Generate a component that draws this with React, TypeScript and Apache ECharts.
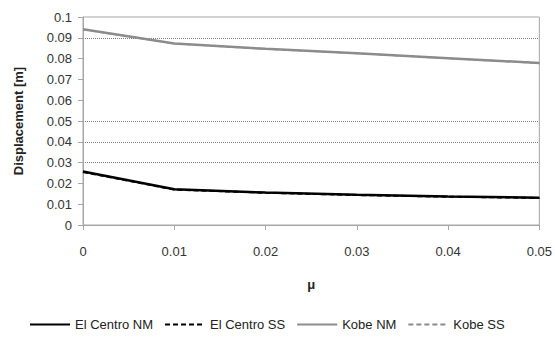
import React, { useEffect, useRef } from "react";
import * as echarts from "echarts";

const muValues = [0, 0.01, 0.02, 0.03, 0.04, 0.05];
const elCentroNM = [0.0257, 0.0172, 0.0156, 0.0145, 0.0137, 0.0131];
const elCentroSS = [0.0255, 0.0170, 0.0155, 0.0144, 0.0136, 0.0130];
const kobeNM = [0.0941, 0.0873, 0.0847, 0.0826, 0.0802, 0.0779];
const kobeSS = [0.0940, 0.0872, 0.0846, 0.0825, 0.0801, 0.0778];
const seriesNames = ["El Centro NM", "El Centro SS", "Kobe NM", "Kobe SS"];

const font = "Liberation Sans";

export default function App() {
  const ref = useRef<HTMLDivElement>(null);
  useEffect(() => {
    const chart = echarts.init(ref.current!, null, { renderer: "svg" });
    const pair = (ys: number[]) => muValues.map((x, i) => [x, ys[i]]);
    const gridColors = [
      "transparent", "transparent", "transparent",
      "#808080", "#808080", "#808080",
      "transparent", "transparent", "transparent",
      "#808080", "transparent",
    ];
    chart.setOption({
      animation: false,
      backgroundColor: "#ffffff",
      textStyle: { fontFamily: font },
      grid: { left: 83, right: 13, top: 17, bottom: 113, show: true, borderColor: "#a6a6a6", borderWidth: 1 },
      legend: {
        bottom: 2,
        left: 24,
        itemWidth: 40,
        itemHeight: 10,
        itemGap: 11,
        itemStyle: { opacity: 0 },
        textStyle: { fontFamily: font, fontSize: 13, color: "#222" },
        data: seriesNames.map((n) => ({ name: n })),
      },
      xAxis: {
        type: "value",
        min: 0,
        max: 0.05,
        interval: 0.01,
        name: "μ",
        nameLocation: "middle",
        nameGap: 53,
        nameTextStyle: { fontFamily: font, fontSize: 13, fontWeight: "bold", color: "#222" },
        axisLine: { show: true, lineStyle: { color: "#a6a6a6", width: 1 } },
        axisTick: { show: true, length: 5, lineStyle: { color: "#a6a6a6" } },
        axisLabel: { margin: 20, fontSize: 13, color: "#333", fontFamily: font },
        splitLine: { show: false },
      },
      yAxis: {
        type: "value",
        min: 0,
        max: 0.1,
        interval: 0.01,
        name: "Displacement [m]",
        nameLocation: "middle",
        nameGap: 58,
        nameTextStyle: { fontFamily: font, fontSize: 13, fontWeight: "bold", color: "#222" },
        axisLine: { show: true, lineStyle: { color: "#a6a6a6", width: 1 } },
        axisTick: { show: true, length: 5, lineStyle: { color: "#a6a6a6" } },
        axisLabel: { margin: 11, fontSize: 13, color: "#333", fontFamily: font },
        splitLine: { show: true, lineStyle: { color: gridColors, type: "dotted", width: 1 } },
      },
      series: [
        {
          name: seriesNames[0], type: "line", data: pair(elCentroNM), symbol: "none",
          lineStyle: { color: "#000", width: 2.5 }, itemStyle: { color: "#000" },
        },
        {
          name: seriesNames[1], type: "line", data: pair(elCentroSS), symbol: "none",
          lineStyle: { color: "#000", width: 2, type: [5, 3] }, itemStyle: { color: "#000" },
        },
        {
          name: seriesNames[2], type: "line", data: pair(kobeNM), symbol: "none",
          lineStyle: { color: "#8c8c8c", width: 2.5 }, itemStyle: { color: "#8c8c8c" },
        },
        {
          name: seriesNames[3], type: "line", data: pair(kobeSS), symbol: "none",
          lineStyle: { color: "#8c8c8c", width: 1.5, type: [5, 3] }, itemStyle: { color: "#8c8c8c" },
        },
      ],
    });
    return () => chart.dispose();
  }, []);
  return <div ref={ref} style={{ width: 555, height: 338, position: "absolute", left: 0, top: 0 }} />;
}
